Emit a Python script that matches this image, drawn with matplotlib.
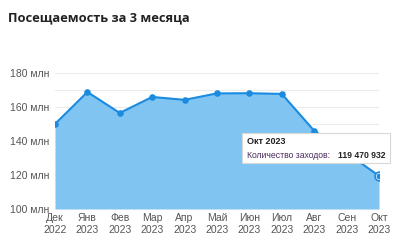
import matplotlib
matplotlib.use("Agg")
import matplotlib.pyplot as plt
from matplotlib.patches import FancyBboxPatch

plt.rcParams["font.family"] = ["Liberation Sans", "DejaVu Sans"]

# data
months = ["Дек\n2022", "Янв\n2023", "Фев\n2023", "Мар\n2023", "Апр\n2023", "Май\n2023",
          "Июн\n2023", "Июл\n2023", "Авг\n2023", "Сен\n2023", "Окт\n2023"]
visits_mln = [150.0, 168.8, 156.5, 165.9, 164.2, 168.0, 168.1, 167.7, 146.0, 133.0, 119.47]
y_ticks = [100, 120, 140, 160, 180]

line_col = "#1a8be0"
fill_col = "#80c4f2"

fig = plt.figure(figsize=(4.0, 2.41), dpi=100)
fig.text(0.02, 0.925, "Посещаемость за 3 месяца", fontsize=9.3, fontweight="bold",
         family=["Open Sans", "DejaVu Sans"], color="#222222", ha="left", va="center")

ax = fig.add_axes([55/400, 1-209/241, 324/400, 136/241])
x = list(range(len(months)))

for g in range(100, 181, 10):
    ax.axhline(g, color="#ececec", lw=0.8, zorder=0)

ax.fill_between(x, 100, visits_mln, color=fill_col, lw=0, zorder=1)
ax.plot(x, visits_mln, color=line_col, lw=1.5, zorder=2)
ax.scatter(x[:-1], visits_mln[:-1], s=14, color=line_col, zorder=3)
ax.scatter(x[-1:], visits_mln[-1:], s=40, facecolor="white", edgecolor=line_col,
           lw=1.2, zorder=4)
ax.scatter(x[-1:], visits_mln[-1:], s=10, color=line_col, zorder=5)

ax.set_xlim(0, 10)
ax.set_ylim(100, 180)
ax.set_yticks(y_ticks)
ax.set_yticklabels([f"{v} млн" for v in y_ticks])
ax.set_xticks(x)
ax.set_xticklabels(months)
ax.tick_params(axis="both", length=0, labelsize=7.5, colors="#555555")
ax.tick_params(axis="y", pad=4)
ax.tick_params(axis="x", pad=3)
for s in ax.spines.values():
    s.set_visible(False)

# tooltip
tip = FancyBboxPatch((242/400, 1-163/241), 148/400, 30/241, boxstyle="square,pad=0",
                     transform=fig.transFigure, facecolor="white", edgecolor="#d8d8d8",
                     lw=0.8, zorder=10)
fig.patches.append(tip)
fig.text(247/400, 1-142/241, "Окт 2023", fontsize=6.5, fontweight="bold",
         color="#222222", va="center", zorder=11)
fig.text(247/400, 1-155/241, "Количество заходов:", fontsize=6.2,
         color="#4a2a5a", va="center", zorder=11)
fig.text(386/400, 1-155/241, "119 470 932", fontsize=6.2, fontweight="bold",
         color="#222222", va="center", ha="right", zorder=11)

fig.savefig("out.png", dpi=100)
